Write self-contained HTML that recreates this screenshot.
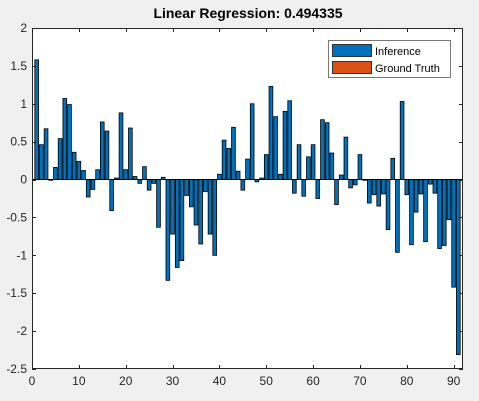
<!DOCTYPE html>
<html><head><meta charset="utf-8"><style>
body{margin:0;background:#f0f0f0;}
svg{display:block;font-family:"Liberation Sans",Arial,sans-serif;}
</style></head><body>
<svg id="chart" width="479" height="401">
<rect x="0" y="0" width="479" height="401" fill="#f0f0f0"/>
<text x="248" y="18" text-anchor="middle" font-size="14" font-weight="bold" fill="#000">Linear Regression: 0.494335</text>
<rect x="32" y="28" width="431" height="341" fill="#fff"/>
<g id="bars"></g>
<g id="axes"></g>
<g>
<rect x="328.5" y="40.5" width="122" height="37" fill="#fff" stroke="#777"/>
<rect x="332.5" y="44.5" width="39" height="12" fill="#0072bd" stroke="#333"/>
<text x="375" y="55" font-size="11" fill="#000">Inference</text>
<rect x="332.5" y="61.5" width="39" height="12" fill="#d95319" stroke="#333"/>
<text x="375" y="72" font-size="11" fill="#000">Ground Truth</text>
</g>
</svg>
<script>
const values = [1.58,0.46,0.67,-0.01,0.16,0.54,1.07,0.99,0.36,0.24,0.12,-0.23,-0.13,0.13,0.76,0.64,-0.41,0.02,0.88,0.13,0.68,0.04,-0.05,0.17,-0.14,-0.05,-0.63,0.03,-1.33,-0.72,-1.16,-1.07,-0.21,-0.36,-0.60,-0.85,-0.16,-0.72,-1.0,0.07,0.52,0.41,0.69,0.11,-0.14,0.27,1.0,-0.03,0.02,0.33,1.23,0.83,0.07,0.90,1.04,-0.18,0.46,-0.22,0.30,0.46,-0.25,0.79,0.75,0.35,-0.33,0.06,0.56,-0.11,-0.07,0.33,-0.01,-0.31,-0.20,-0.35,-0.19,-0.66,0.28,-0.96,1.03,-0.20,-0.86,-0.43,-0.19,-0.82,-0.06,-0.18,-0.91,-0.87,-0.53,-1.42,-2.31];
const xTicks = [0,10,20,30,40,50,60,70,80,90];
const yTicks = [2,1.5,1,0.5,0,-0.5,-1,-1.5,-2,-2.5];
const yTickLabels = ["2","1.5","1","0.5","0","-0.5","-1","-1.5","-2","-2.5"];
const NS="http://www.w3.org/2000/svg";
const X0=32,X1=463,Y0=28,Y1=369,XMIN=0,XMAX=92,YMIN=-2.5,YMAX=2;
function xs(v){return X0+(v-XMIN)/(XMAX-XMIN)*(X1-X0);}
function ys(v){return Y1-(v-YMIN)/(YMAX-YMIN)*(Y1-Y0);}
function mk(tag,attrs,parent){const e=document.createElementNS(NS,tag);for(const k in attrs)e.setAttribute(k,attrs[k]);parent.appendChild(e);return e;}
const bars=document.getElementById('bars');
const bw=0.8*(xs(1)-xs(0));
values.forEach((v,i)=>{
  const cx=xs(i+1);const y0=ys(0),y=ys(v);
  const r=mk('rect',{x:cx-bw/2,y:Math.min(y0,y),width:bw,height:Math.max(Math.abs(y-y0),0.5),fill:'#0072bd',stroke:'#000','stroke-width':0.8},bars);
  
  
});
const axes=document.getElementById('axes');
const base=mk('line',{x1:X0,x2:X1,y1:ys(0),y2:ys(0),stroke:'#000','stroke-width':1},axes);


const box=mk('rect',{x:X0+0.5,y:Y0+0.5,width:X1-X0-1,height:Y1-Y0-1,fill:'none',stroke:'#262626','stroke-width':1},axes);


xTicks.forEach(t=>{
  const x=Math.round(xs(t))+0.5;
  mk('line',{x1:x,x2:x,y1:Y1,y2:Y1-4,stroke:'#262626'},axes);
  mk('line',{x1:x,x2:x,y1:Y0,y2:Y0+4,stroke:'#262626'},axes);
  const tx=mk('text',{x:xs(t),y:Y1+16,'text-anchor':'middle','font-size':12,fill:'#262626'},axes);
  tx.textContent=t;
  
  
});
yTicks.forEach((t,i)=>{
  const y=Math.round(ys(t))+0.5;
  mk('line',{x1:X0,x2:X0+4,y1:y,y2:y,stroke:'#262626'},axes);
  mk('line',{x1:X1,x2:X1-4,y1:y,y2:y,stroke:'#262626'},axes);
  const tx=mk('text',{x:X0-5,y:ys(t)+4,'text-anchor':'end','font-size':12,fill:'#262626'},axes);
  tx.textContent=yTickLabels[i];
  
  
});
</script>
</body></html>
